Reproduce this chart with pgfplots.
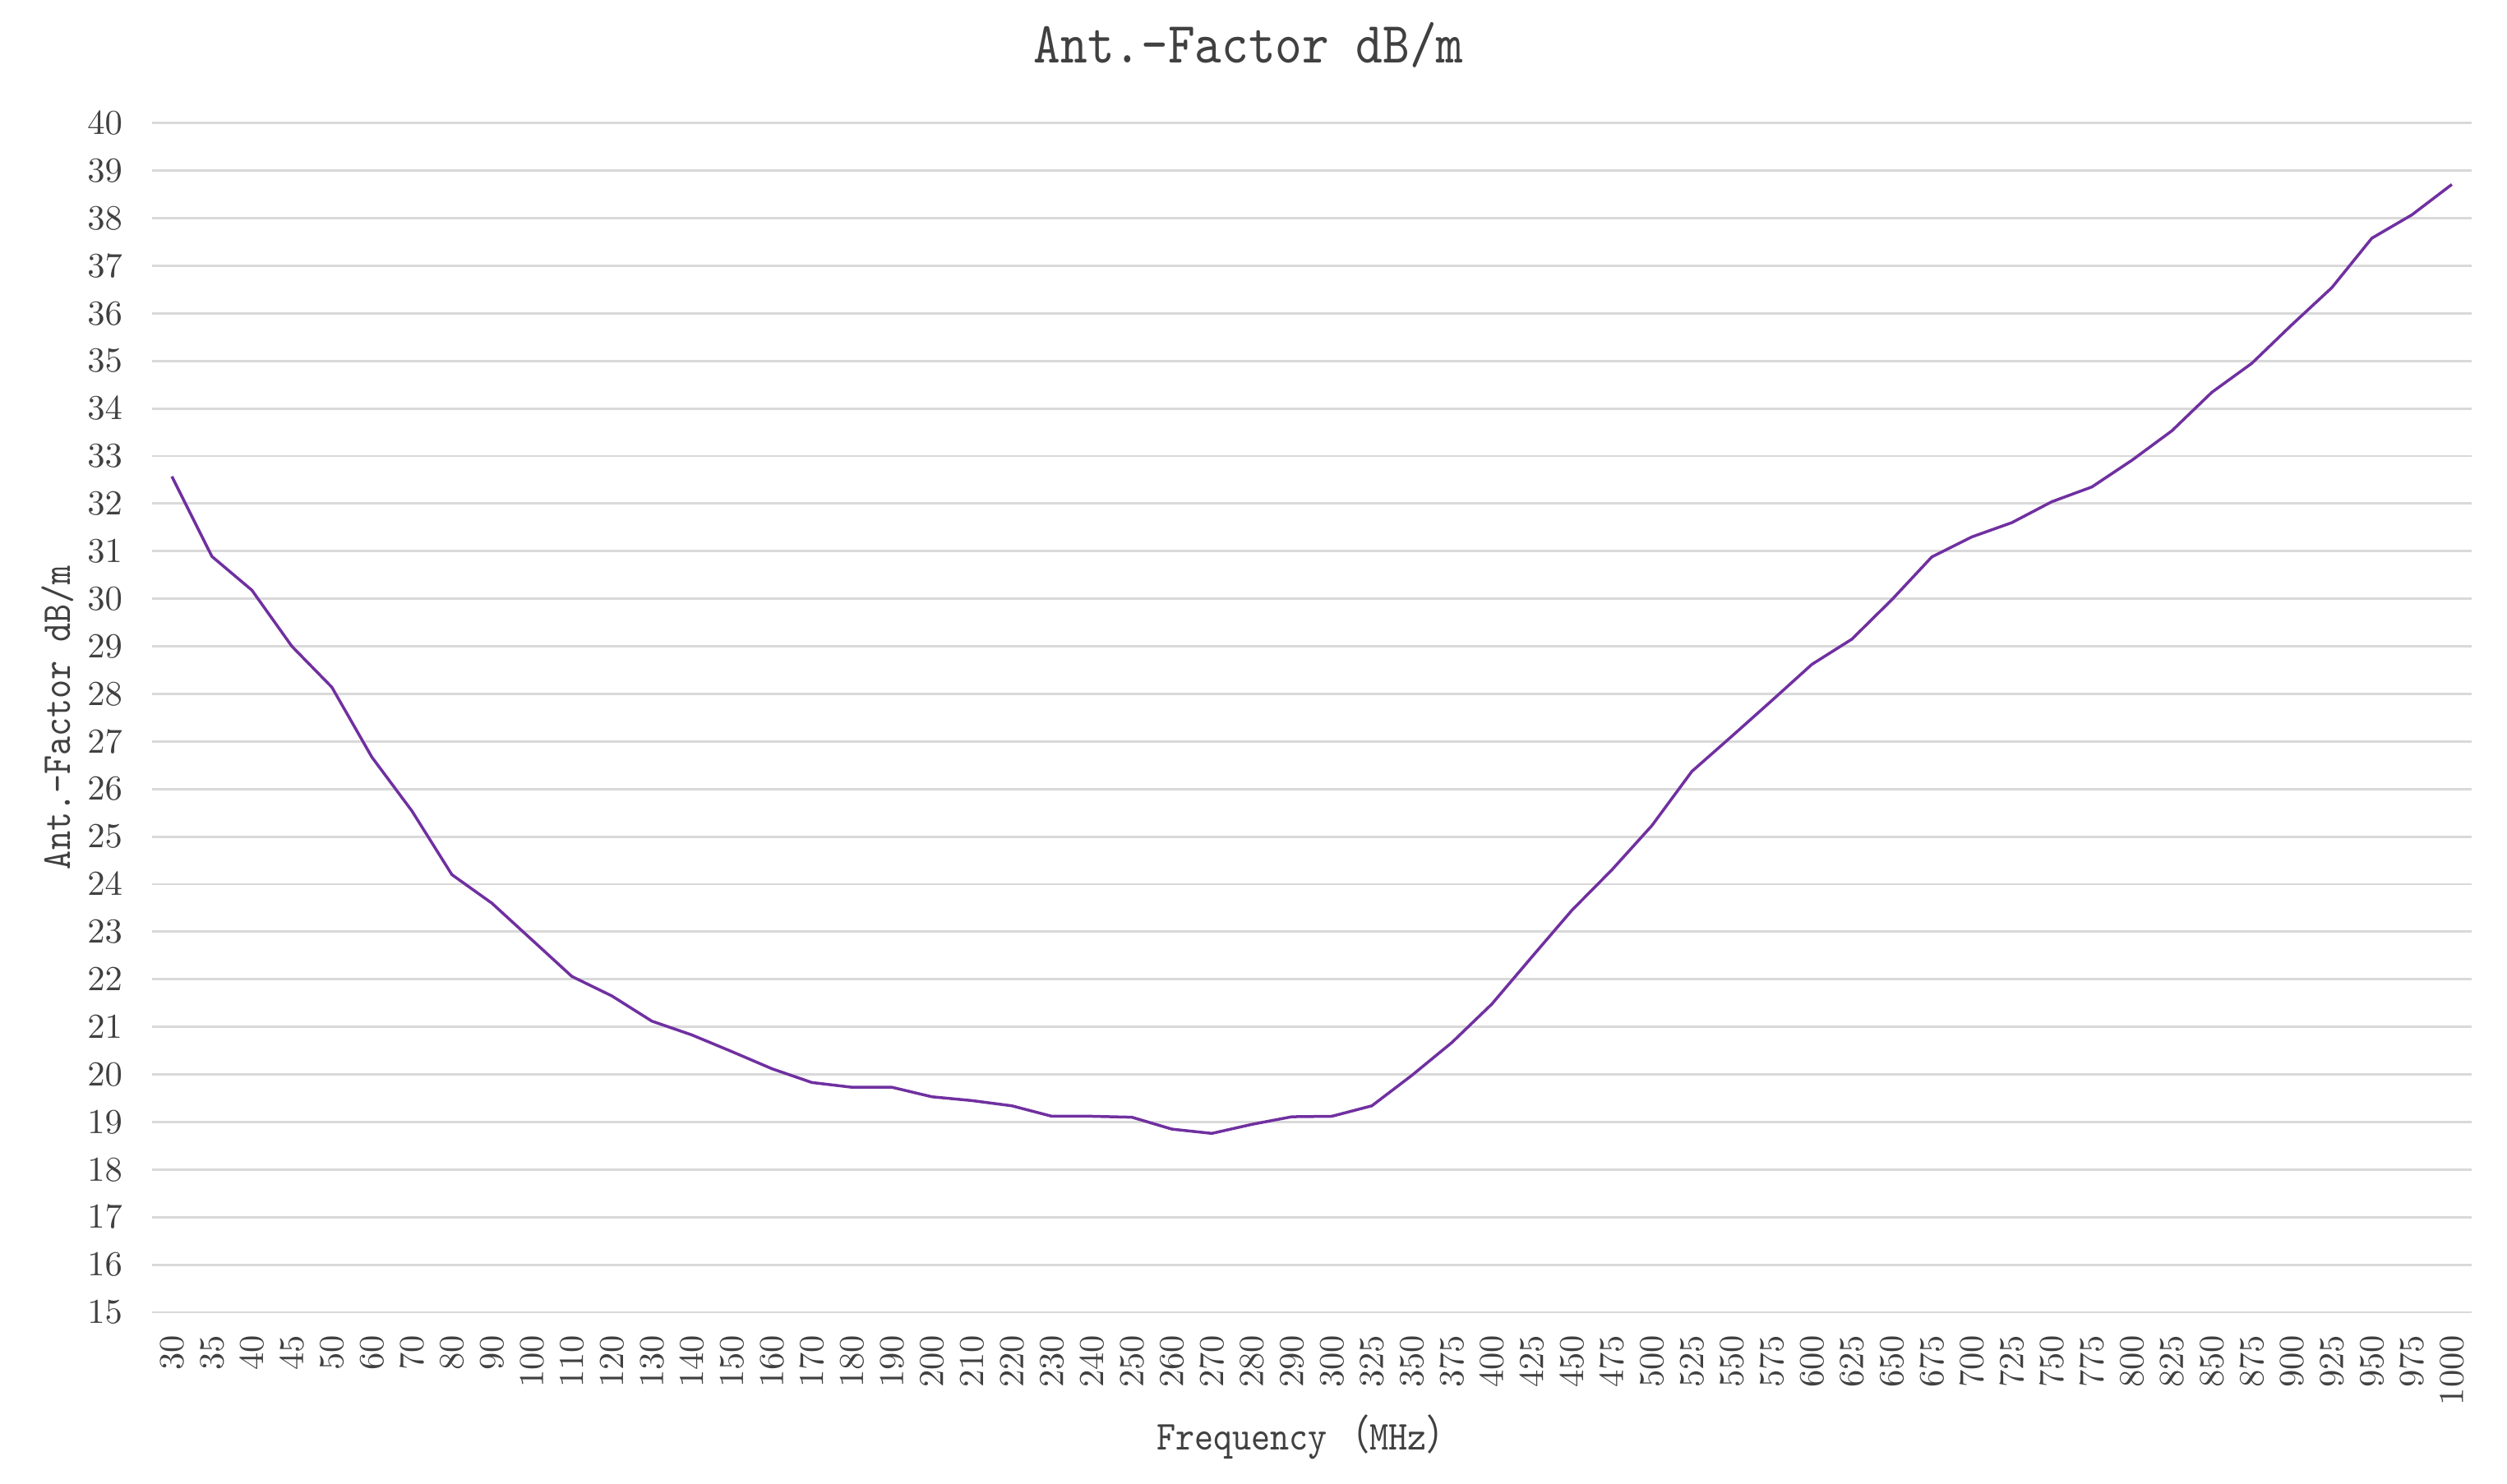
\documentclass[border=0pt]{standalone}
\usepackage{fontspec}
\setmainfont{lmmono10-regular.otf}
\newfontfamily\cjk{Noto Sans CJK SC}
\usepackage{pgfplots}
\pgfplotsset{compat=1.18}
\definecolor{linepurple}{HTML}{7030A0}
\definecolor{gridgray}{HTML}{D9D9D9}
\definecolor{txt}{HTML}{404040}

\begin{document}
\begin{tikzpicture}
\useasboundingbox (-47.5pt,-53.5pt) rectangle (736.5pt,410.5pt);
\begin{axis}[
    at={(0,0)}, anchor=south west,
    scale only axis,
    width=725.5pt, height=372pt,
    xmin=-0.5, xmax=57.5,
    ymin=15, ymax=40,
    xtick={0,...,57},
    xticklabels={$30$,$35$,$40$,$45$,$50$,$60$,$70$,$80$,$90$,$100$,$110$,$120$,$130$,$140$,$150$,$160$,$170$,$180$,$190$,$200$,$210$,$220$,$230$,$240$,$250$,$260$,$270$,$280$,$290$,$300$,$325$,$350$,$375$,$400$,$425$,$450$,$475$,$500$,$525$,$550$,$575$,$600$,$625$,$650$,$675$,$700$,$725$,$750$,$775$,$800$,$825$,$850$,$875$,$900$,$925$,$950$,$975$,$1000$},
    ytick={15,...,40},
    axis line style={draw=none},
    major tick length=0pt,
    ymajorgrids,
    grid style={gridgray, line width=0.75pt},
    tick label style={font=\fontsize{10.5}{10.5}\selectfont, text=txt, inner sep=0pt},
    yticklabel shift=9pt,
    xticklabel shift=7pt,
    xticklabel style={rotate=90, anchor=east},
]
\addplot[linepurple, line width=0.9pt, line join=round, mark=none] coordinates {
    (0,32.57) (1,30.89) (2,30.18) (3,29.0) (4,28.14) (5,26.67) (6,25.54) (7,24.2)
    (8,23.6) (9,22.83) (10,22.06) (11,21.65) (12,21.12) (13,20.83) (14,20.48)
    (15,20.12) (16,19.83) (17,19.73) (18,19.73) (19,19.53) (20,19.45) (21,19.34)
    (22,19.12) (23,19.12) (24,19.1) (25,18.85) (26,18.76) (27,18.95) (28,19.11)
    (29,19.12) (30,19.34) (31,19.98) (32,20.67) (33,21.48) (34,22.47) (35,23.45)
    (36,24.3) (37,25.23) (38,26.37) (39,27.11) (40,27.86) (41,28.62) (42,29.15)
    (43,29.98) (44,30.88) (45,31.3) (46,31.6) (47,32.04) (48,32.35) (49,32.91)
    (50,33.53) (51,34.34) (52,34.95) (53,35.76) (54,36.54) (55,37.58) (56,38.07)
    (57,38.71)
};
\end{axis}
\node[font=\fontsize{16}{16}\selectfont, text=txt, yscale=1.14, transform shape] at (343pt,396.5pt) {Ant.-Factor dB/m};
\node[font=\fontsize{11.3}{11.3}\selectfont, text=txt, yscale=1.14, transform shape] at (362pt,-39pt) {Frequency\,{\cjk（}MHz{\cjk）}};
\node[font=\fontsize{11.3}{11.3}\selectfont, text=txt, rotate=90, yscale=1.14, transform shape] at (-29.5pt,186pt) {Ant.-Factor dB/m};
\end{tikzpicture}
\end{document}
